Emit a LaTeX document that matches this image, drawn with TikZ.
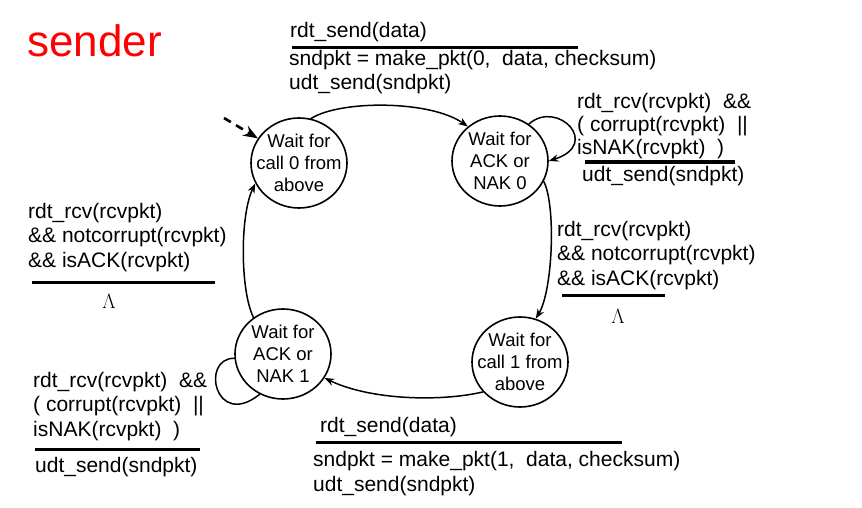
\documentclass[tikz,border=0pt]{standalone}
\usepackage{fontspec}
\setmainfont{Liberation Sans}
\usetikzlibrary{arrows.meta,shapes.geometric}
\definecolor{senderred}{HTML}{FF0000}
\tikzset{
  every picture/.style={
    line join=round,
    line cap=round,
    >=Stealth,                      % one arrow tip everywhere
  },
  % text may touch the rim, as in the slide
  state/.style={ellipse, draw, line width=1.6pt, minimum width=96pt,
    minimum height=90pt, inner xsep=-14pt, inner ysep=0pt, align=center,
    font=\fontsize{18.5}{22}\selectfont},
  % base west = baseline of the LAST line
  guard/.style={anchor=base west, inner sep=0pt, align=left,
    font=\fontsize{21}{24.5}\selectfont},
  bar/.style={line width=3pt, line cap=butt},
  trans/.style={->, line width=1.5pt},
  lam/.style={font=\fontsize{21}{22}\selectfont},
}

\begin{document}
\begin{tikzpicture}[x=1pt, y=1pt]
\useasboundingbox (0,0) rectangle (862,-508);
\node[anchor=base west, inner sep=0pt, text=senderred,
  font=\fontsize{44}{48}\selectfont] (title) at (27,-57) {sender};

% states
\node[state] (w0) at (299,-163) {Wait for\\call 0 from\\above};
\node[state] (a0) at (500,-161) {Wait for\\ACK or\\NAK 0};
\node[state] (c1) at (520,-362) {Wait for\\call 1 from\\above};
\node[state] (a1) at (283,-354) {Wait for\\ACK or\\NAK 1};

% transitions
\coordinate (init) at (224,-118);
\draw[trans, line width=2.6pt, dash pattern=on 8pt off 6pt, line cap=butt] (init) -- (w0);
\draw[trans] (w0.75) .. controls (340,-100) and (430,-100) .. (a0.133);
\draw[trans] (a0.52) .. controls (557,-99) and (602,-144) .. (a0.0);
\draw[trans] (a0.-25) .. controls (556,-205) and (553,-290) .. (c1.70);
\draw[trans] (c1.219) .. controls (440,-402) and (370,-400) .. (a1.-30);
\draw[line width=1.5pt] (a1.185) .. controls (200,-358) and (215,-430) .. (a1.240);
\draw[trans] (a1.129) .. controls (240,-290) and (240,-215) .. (w0.205);

% top
\node[guard] (g1) at (290,-38) {rdt\_send(data)};
\draw[bar] (292,-48) -- (578,-48);
\node[guard] (g1a) at (289,-90) {sndpkt = make\_pkt(0,~ data, checksum)\\udt\_send(sndpkt)};

% top right
\node[guard, font=\fontsize{21}{23}\selectfont] (g2) at (577,-154) {rdt\_rcv(rcvpkt) ~\&\&\\( corrupt(rcvpkt) ~||\\isNAK(rcvpkt) ~)};
\draw[bar] (585,-162) -- (735,-162);
\node[guard] (g2a) at (582,-182) {udt\_send(sndpkt)};

% right
\node[guard] (g3) at (557,-285) {rdt\_rcv(rcvpkt)\\\&\& notcorrupt(rcvpkt)\\\&\& isACK(rcvpkt)};
\draw[bar] (562,-295) -- (665,-295);
\node[lam] (l3) at (618,-316) {$\Lambda$};

% left
\node[guard] (g4) at (28,-267) {rdt\_rcv(rcvpkt)\\\&\& notcorrupt(rcvpkt)\\\&\& isACK(rcvpkt)};
\draw[bar] (32,-282) -- (215,-282);
\node[lam] (l4) at (109,-301) {$\Lambda$};

% bottom left
\node[guard] (g5) at (33,-436) {rdt\_rcv(rcvpkt) ~\&\&\\( corrupt(rcvpkt) ~||\\isNAK(rcvpkt) ~)};
\draw[bar] (35,-449) -- (200,-449);
\node[guard] (g5a) at (35,-472) {udt\_send(sndpkt)};

% bottom
\node[guard] (g6) at (320,-432) {rdt\_send(data)};
\draw[bar] (316,-442) -- (622,-442);
\node[guard] (g6a) at (313,-491) {sndpkt = make\_pkt(1,~ data, checksum)\\udt\_send(sndpkt)};
\end{tikzpicture}
\end{document}
